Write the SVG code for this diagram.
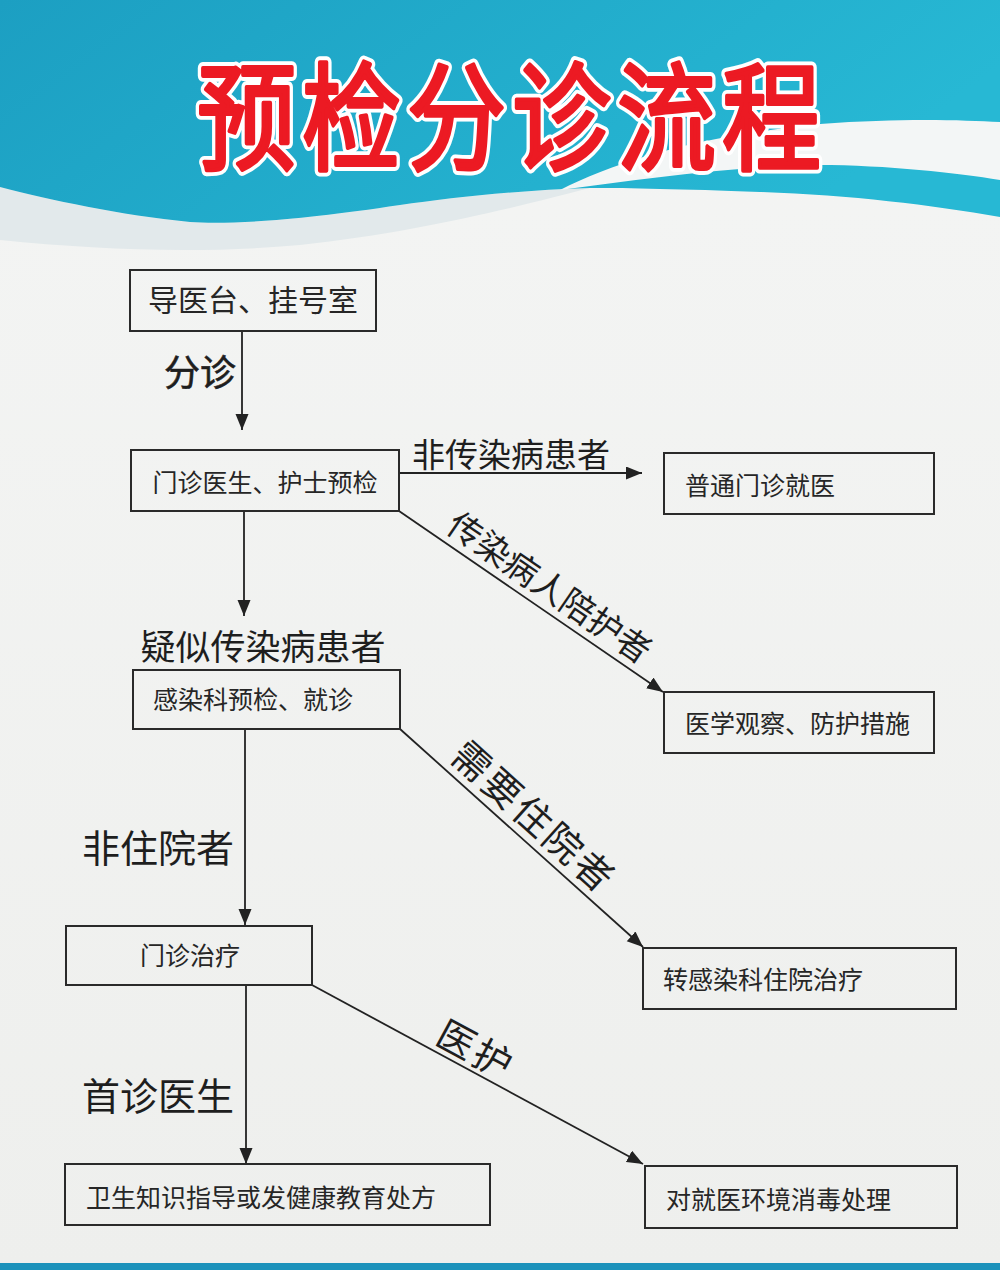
<svg xmlns="http://www.w3.org/2000/svg" width="1000" height="1270" viewBox="0 0 1000 1270">
<defs>
<linearGradient id="teal" x1="0" y1="0" x2="1" y2="0.3">
<stop offset="0" stop-color="#1c9fc2"/>
<stop offset="1" stop-color="#27b8d4"/>
</linearGradient>
<linearGradient id="bg" x1="0" y1="0" x2="0" y2="1">
<stop offset="0" stop-color="#f4f5f4"/>
<stop offset="1" stop-color="#eeefed"/>
</linearGradient>
<marker id="arr" markerUnits="userSpaceOnUse" markerWidth="18" markerHeight="14" refX="16" refY="6.5" orient="auto">
<path d="M0,0 L16,6.5 L0,13 Z" fill="#222"/>
</marker>
<style>
.box{fill:none;stroke:#2a2a2a;stroke-width:2}
.nt{font-family:"Noto Sans CJK SC","Noto Sans",sans-serif;font-size:25px;fill:#262626;font-weight:400}
.lb{font-family:"Noto Sans CJK SC","Noto Sans",sans-serif;fill:#1e1e1e;font-weight:400}
.ln{stroke:#222;stroke-width:1.8;fill:none;marker-end:url(#arr)}
.tt{font-family:"Noto Sans CJK SC",sans-serif;font-weight:400;font-size:99px;letter-spacing:6px;stroke-linejoin:round}
</style>
</defs>
<rect width="1000" height="1270" fill="url(#bg)"/>
<g id="header">
<path d="M0,187 C50,200 120,215 190,222 C230,225 300,220 400,205 C450,198 520,190 590,188 C520,206 420,232 300,245 C200,254 100,250 0,240 Z" fill="#e2e9eb"/>
<path d="M0,0 H1000 V217 C930,205 850,195 760,192 C680,189 630,188 590,188 C520,190 450,198 400,205 C300,220 230,225 190,222 C120,215 50,200 0,187 Z" fill="url(#teal)"/>
<path d="M560,190 C620,160 700,136 820,124 C900,118 960,120 1000,122 V180 C950,172 860,162 780,166 C700,171 630,181 560,190 Z" fill="#f3f6f6"/>
<text class="tt" transform="translate(512,161) scale(1,1.18)" text-anchor="middle" fill="#ffffff" stroke="#ffffff" stroke-width="10">预检分诊流程</text>
<text class="tt" transform="translate(512,161) scale(1,1.18)" text-anchor="middle" fill="#ec1a23" stroke="#ec1a23" stroke-width="3.5">预检分诊流程</text>
</g>
<rect x="0" y="1263" width="1000" height="7" fill="#1c92bb"/>
<g id="connectors">
<line class="ln" x1="242" y1="331" x2="242" y2="430"/>
<line class="ln" x1="399" y1="473" x2="642" y2="473"/>
<line class="ln" x1="399" y1="511" x2="663" y2="692"/>
<line class="ln" x1="244" y1="511" x2="244" y2="616"/>
<line class="ln" x1="400" y1="729" x2="643" y2="947"/>
<line class="ln" x1="245" y1="729" x2="245" y2="925"/>
<line class="ln" x1="312" y1="985" x2="643" y2="1164"/>
<line class="ln" x1="246" y1="985" x2="246" y2="1164"/>
<text class="lb" x="200" y="386" font-size="36" text-anchor="middle" stroke="#1e1e1e" stroke-width="0.6">分诊</text>
<text class="lb" x="511" y="467" font-size="33" text-anchor="middle">非传染病患者</text>
<text class="lb" x="263" y="660" font-size="35" text-anchor="middle">疑似传染病患者</text>
<text class="lb" x="158" y="862" font-size="38" text-anchor="middle">非住院者</text>
<text class="lb" x="158" y="1110" font-size="38" text-anchor="middle">首诊医生</text>
<text class="lb" transform="translate(550,587) rotate(34.4)" y="13" font-size="34" text-anchor="middle">传染病人陪护者</text>
<text class="lb" transform="translate(534,817) rotate(42)" y="14" font-size="38" letter-spacing="3" text-anchor="middle">需要住院者</text>
<text class="lb" transform="translate(476,1050) rotate(28.4)" y="14" font-size="38" letter-spacing="3" text-anchor="middle">医护</text>
</g>
<g id="n1"><rect class="box" x="130" y="270" width="246" height="61"/><text class="nt" x="253" y="311" text-anchor="middle" style="font-size:30px">导医台、挂号室</text></g>
<g id="n2"><rect class="box" x="131" y="450" width="268" height="61"/><text class="nt" x="265" y="492" text-anchor="middle">门诊医生、护士预检</text></g>
<g id="n3"><rect class="box" x="664" y="453" width="270" height="61"/><text class="nt" x="685" y="495">普通门诊就医</text></g>
<g id="n4"><rect class="box" x="664" y="692" width="270" height="61"/><text class="nt" x="685" y="733">医学观察、防护措施</text></g>
<g id="n5"><rect class="box" x="133" y="670" width="267" height="59"/><text class="nt" x="153" y="709">感染科预检、就诊</text></g>
<g id="n6"><rect class="box" x="643" y="948" width="313" height="61"/><text class="nt" x="663" y="989">转感染科住院治疗</text></g>
<g id="n7"><rect class="box" x="66" y="926" width="246" height="59"/><text class="nt" x="140" y="965">门诊治疗</text></g>
<g id="n8"><rect class="box" x="65" y="1164" width="425" height="61"/><text class="nt" x="86" y="1207">卫生知识指导或发健康教育处方</text></g>
<g id="n9"><rect class="box" x="645" y="1166" width="312" height="62"/><text class="nt" x="666" y="1209">对就医环境消毒处理</text></g>
</svg>
